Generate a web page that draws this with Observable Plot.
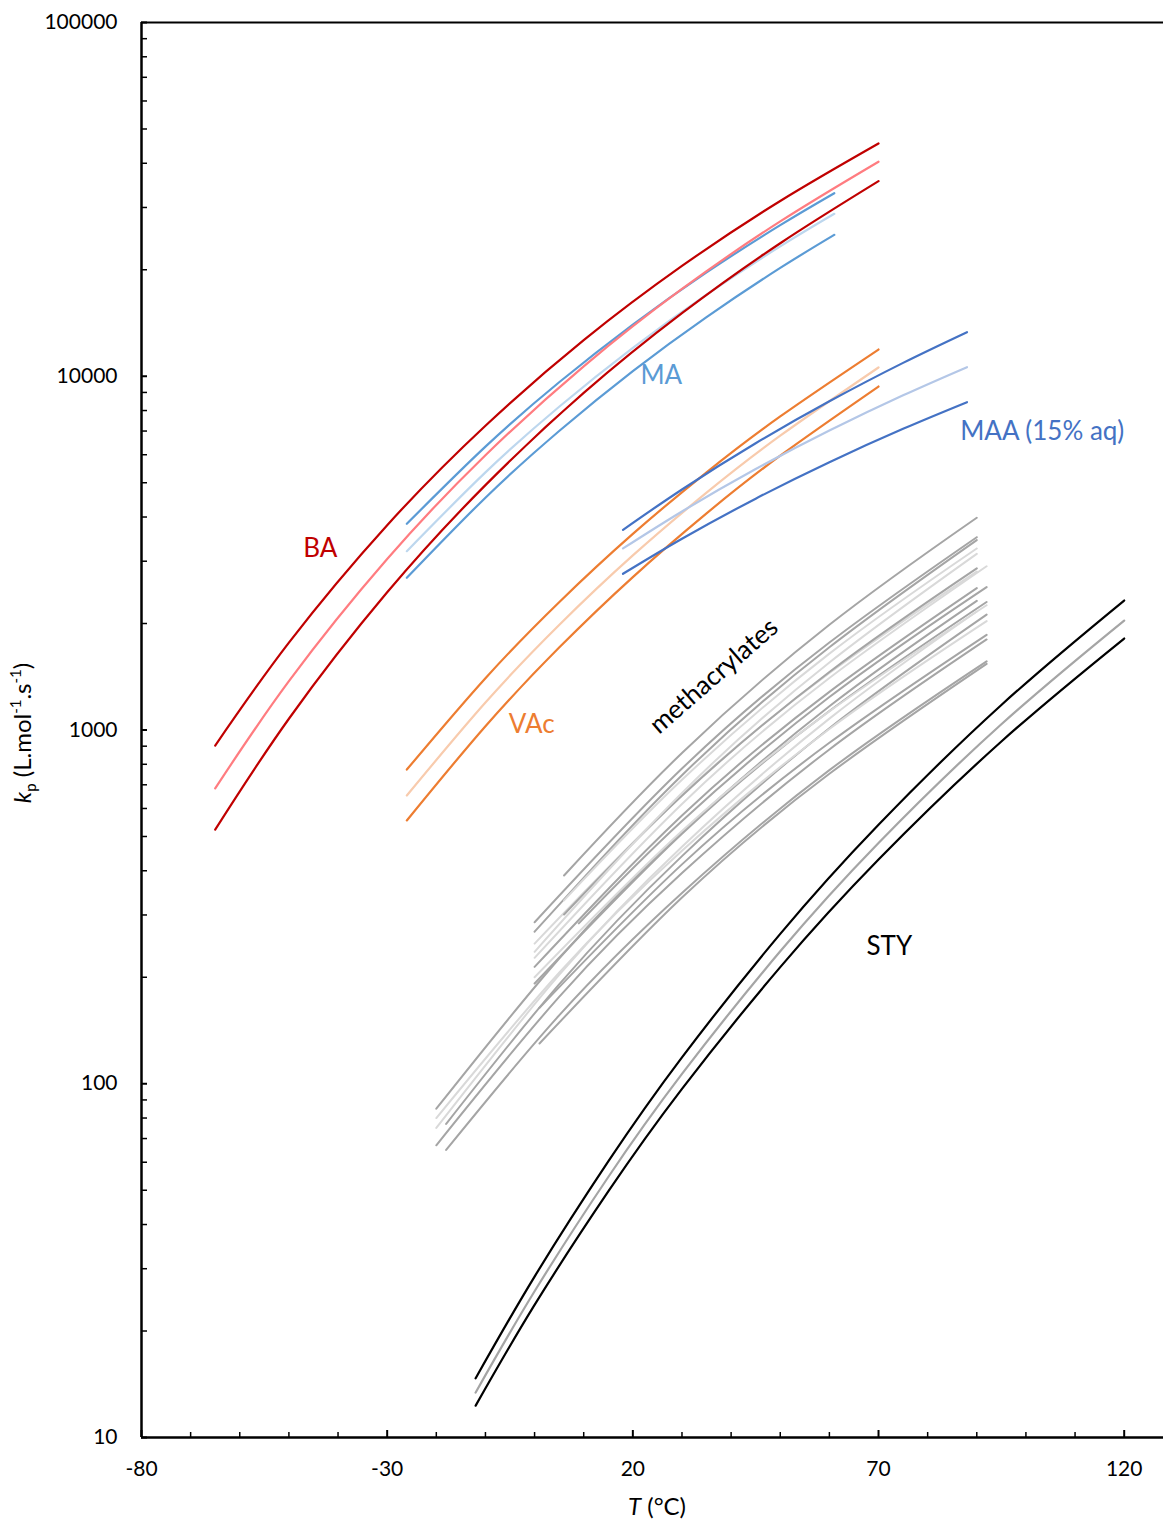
<!DOCTYPE html>
<html><head><meta charset="utf-8">
<script src="https://cdn.jsdelivr.net/npm/d3@7"></script>
<script src="https://cdn.jsdelivr.net/npm/@observablehq/plot@0.6"></script>
<style>
body{margin:0;background:#fff;}
#chart{width:1164px;height:1523px;}
</style></head><body><div id="chart"></div>
<script>
// ---- data ----
const T_BA = [-65,-50,-30,-10,10,30,50,70];
const BA_a = [904,1766,3793,7248,12650,20500,31300,45500];
const BA_b = [684,1374,3043,5980,10670,17650,27400,40400];
const BA_c = [523,1076,2450,4923,8970,15070,23770,35600];

const T_MA = [-26,-10,5,20,35,50,61];
const MA_a = [3828,6325,9616,14000,19660,26740,32920];
const MA_b = [3203,5348,8200,12030,17010,23290,28790];
const MA_c = [2693,4536,7002,10340,14700,20240,25110];

const T_VAc = [-26,-10,5,20,35,50,70];
const VAc_a = [773,1401,2298,3584,5352,7700,11900];
const VAc_b = [653,1196,1981,3115,4688,6792,10590];
const VAc_c = [555,1025,1710,2706,4096,5965,9354];

const T_MAA = [18,30,45,60,75,88];
const MAA_a = [3680,4786,6464,8495,10910,13320];
const MAA_b = [3260,4148,5465,7022,8833,10610];
const MAA_c = [2764,3472,4508,5716,7102,8446];

const T_STY = [-12,0,15,30,50,70,95,120];
const STY_a = [14.7,28.5,60.3,118.7,265.3,539.9,1177,2323];
const STY_b = [13.4,25.9,54.5,106.6,236.8,479.3,1038,2039];
const STY_c = [12.3,23.7,49.6,96.7,213.6,430.3,928,1814];

// methacrylates: temperature points and kp for each curve
const methT = [
  [-20,5,30,60,90],[-20,5,30,60,90],[-20,5,30,60,92],[-18,5,30,60,92],[-18,5,30,60,92],
  [0,30,60,90],[0,30,60,90],[0,30,60,90],[0,30,60,92],[0,30,60,90],
  [0,30,60,92],[1,30,60,92],[1,30,60,92],[6,30,60,90],[6,30,60,90],
  [9,30,60,92],[0,30,60,90],[6,30,60,90],[-20,5,30,60,92],[0,30,60,92]
];
const methKp = [
  [85,226,514,1167,2317],[75,203,468,1077,2163],[67,176,394,881,1803],[77,191,440,1012,2120],[65,156,346,770,1563],
  [286,778,1767,3508],[269,745,1714,3443],[249,655,1449,2805],[227,618,1403,2904],[214,573,1282,2518],
  [192,509,1132,2301],[164,417,920,1858],[130,336,752,1538],[388,861,1983,3981],[301,652,1459,2864],
  [284,553,1239,2535],[236,664,1552,3148],[330,723,1644,3260],[80,206,456,1007,2032],[200,518,1129,2253]
];
const methShade = [0,1,0,0,0, 0,0,1,1,0, 0,0,0,0,0, 0,1,1,1,1];

const xMajor = [-80,-30,20,70,120];
const xMinor = [-70,-60,-50,-40,-20,-10,0,10,30,40,50,60,80,90,100,110];
const yMajor = [10,100,1000,10000,100000];

const labels = [
  {text:"BA", T:-43.6, kp:3260, color:"#C00000", rot:0},
  {text:"MA", T:25.8, kp:10040, color:"#5B9BD5", rot:0},
  {text:"MAA (15% aq)", T:103.3, kp:6980, color:"#4472C4", rot:0},
  {text:"VAc", T:-0.6, kp:1036, color:"#ED7D31", rot:0},
  {text:"methacrylates", T:36.5, kp:1420, color:"#000000", rot:-41},
  {text:"STY", T:72.2, kp:244, color:"#000000", rot:0}
];

// ---- build table ----
const rows = [];
function addSeries(id, Ts, ks, color, w){ Ts.forEach((t,i)=>rows.push({id, T:t, kp:ks[i], color, w})); }
methT.forEach((ts,j)=>addSeries("meth"+j, ts, methKp[j], methShade[j] ? "#D9D9D9" : "#A5A5A5", 2));
addSeries("STYa", T_STY, STY_a, "#000000", 2.2);
addSeries("STYb", T_STY, STY_b, "#A5A5A5", 2.2);
addSeries("STYc", T_STY, STY_c, "#000000", 2.2);
addSeries("VAca", T_VAc, VAc_a, "#ED7D31", 2.2);
addSeries("VAcb", T_VAc, VAc_b, "#F8CBAD", 2.2);
addSeries("VAcc", T_VAc, VAc_c, "#ED7D31", 2.2);
addSeries("MAAa", T_MAA, MAA_a, "#4472C4", 2.2);
addSeries("MAAb", T_MAA, MAA_b, "#B4C7E7", 2.2);
addSeries("MAAc", T_MAA, MAA_c, "#4472C4", 2.2);
addSeries("MAa", T_MA, MA_a, "#5B9BD5", 2.2);
addSeries("MAb", T_MA, MA_b, "#BDD7EE", 2.2);
addSeries("MAc", T_MA, MA_c, "#5B9BD5", 2.2);
addSeries("BAa", T_BA, BA_a, "#C00000", 2.2);
addSeries("BAb", T_BA, BA_b, "#FF7C80", 2.2);
addSeries("BAc", T_BA, BA_c, "#C00000", 2.2);

const yMinor = [];
for (let e = 1; e < 5; e++) for (let m = 2; m <= 9; m++) yMinor.push(m * Math.pow(10, e));

const FONT = "Lato, 'Open Sans', sans-serif";

const plot = Plot.plot({
  width: 1164, height: 1523,
  marginLeft: 141, marginRight: 1, marginTop: 22, marginBottom: 86,
  style: {fontFamily: FONT, fontSize: "21px", color: "#000", background: "#fff"},
  x: {domain: [-80, 128]},
  y: {type: "log", domain: [10, 100000]},
  color: {type: "identity"},
  marks: [
    Plot.line(rows, {x: "T", y: "kp", z: "id", stroke: "color", strokeWidth: "w", curve: "natural"}),
    Plot.text(labels, {x: "T", y: "kp", text: "text", fill: "color", rotate: "rot", fontSize: 26}),
    // frame
    Plot.ruleY([100000], {stroke: "#000", strokeWidth: 2}),
    Plot.ruleY([10], {stroke: "#000", strokeWidth: 2.5}),
    Plot.ruleX([-80], {stroke: "#000", strokeWidth: 2.5}),
    // inward ticks
    Plot.ruleX(xMinor, {x: d => d, y1: 10, y2: 10, insetBottom: 5, stroke: "#000", strokeWidth: 1.5}),
    Plot.ruleX(xMajor, {x: d => d, y1: 10, y2: 10, insetBottom: 7, stroke: "#000", strokeWidth: 2}),
    Plot.ruleY(yMinor, {y: d => d, x1: -80, x2: -80, insetRight: -6, stroke: "#000", strokeWidth: 1.5}),
    Plot.ruleY(yMajor, {y: d => d, x1: -80, x2: -80, insetRight: -6, stroke: "#000", strokeWidth: 2}),
    // tick labels
    Plot.axisX(xMajor, {tickSize: 0, tickPadding: 24, tickFormat: d => String(d), label: null, fontSize: 21}),
    Plot.axisY(yMajor, {tickSize: 0, tickPadding: 24, tickFormat: d => String(d), label: null, fontSize: 21})
  ]
});

document.getElementById("chart").appendChild(plot);

const svg = d3.select(plot);
const yl = svg.append("text")
  .attr("transform", "translate(31,733) rotate(-90)")
  .attr("text-anchor", "middle").attr("font-size", 24).attr("font-family", FONT).attr("fill", "#000");
yl.append("tspan").attr("font-style", "italic").text("k");
yl.append("tspan").attr("font-size", 15).attr("dy", 5).text("p");
yl.append("tspan").attr("dy", -5).text(" (L.mol");
yl.append("tspan").attr("font-size", 15).attr("dy", -10).text("-1");
yl.append("tspan").attr("dy", 10).text(".s");
yl.append("tspan").attr("font-size", 15).attr("dy", -10).text("-1");
yl.append("tspan").attr("dy", 10).text(")");

const xl = svg.append("text")
  .attr("x", 657).attr("y", 1515)
  .attr("text-anchor", "middle").attr("font-size", 24).attr("font-family", FONT).attr("fill", "#000");
xl.append("tspan").attr("font-style", "italic").text("T");
xl.append("tspan").text(" (°C)");
</script>
</body></html>
